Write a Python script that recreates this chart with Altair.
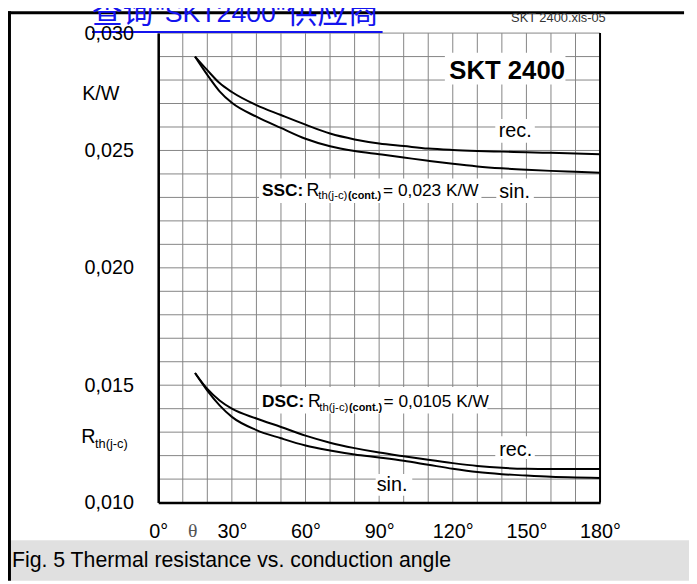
import altair as alt
import pandas as pd

# ---- data ----
angles = [15, 20, 25, 30, 40, 50, 60, 70, 80, 90, 100, 110, 120, 130, 140, 150, 160, 170, 180]
ssc_rec = [0.02900, 0.02842, 0.02787, 0.02749, 0.02693, 0.02651, 0.02610, 0.02572, 0.02547, 0.02530,
           0.02519, 0.02508, 0.02502, 0.02498, 0.02495, 0.02492, 0.02490, 0.02487, 0.02484]
ssc_sin = [0.02900, 0.02822, 0.02752, 0.02703, 0.02644, 0.02596, 0.02550, 0.02518, 0.02498, 0.02484,
           0.02470, 0.02456, 0.02443, 0.02432, 0.02424, 0.02418, 0.02413, 0.02409, 0.02405]
dsc_rec = [0.01552, 0.01484, 0.01435, 0.01400, 0.01358, 0.01322, 0.01285, 0.01255, 0.01232, 0.01213,
           0.01197, 0.01182, 0.01168, 0.01156, 0.01148, 0.01144, 0.01143, 0.01143, 0.01143]
dsc_sin = [0.01552, 0.01477, 0.01414, 0.01365, 0.01309, 0.01274, 0.01243, 0.01222, 0.01205, 0.01192,
           0.01178, 0.01161, 0.01144, 0.01130, 0.01121, 0.01115, 0.01110, 0.01107, 0.01105]
curve_names = ["SSC rec.", "SSC sin.", "DSC rec.", "DSC sin."]
x_grid = list(range(0, 181, 10))
y_grid = [round(0.010 + i * 0.001, 3) for i in range(21)]

rows = []
for name, vals in zip(curve_names, [ssc_rec, ssc_sin, dsc_rec, dsc_sin]):
    for a, v in zip(angles, vals):
        rows.append({"angle": a, "rth": v, "curve": name})
df = pd.DataFrame(rows)

FONT = "Liberation Sans"
CJK = "Noto Sans CJK SC"
W, H = 447, 475
GRID = "#858585"
BLUE = "#1414ee"

xscale = alt.Scale(domain=[0, 180], nice=False, zero=False)
yscale = alt.Scale(domain=[0.010, 0.030], nice=False, zero=False)


def xaxis():
    return alt.Axis(values=x_grid, title=None, ticks=False, tickSize=0, grid=False, zindex=1,
                    labelExpr="datum.value % 30 == 0 ? datum.value + '°' : ''",
                    domainColor="black", domainWidth=2.5,
                    labelFont=FONT, labelFontSize=20, labelColor="black",
                    labelPadding=19.5, labelOverlap=False, labelFlush=False, labelBound=False)


def yaxis():
    return alt.Axis(values=y_grid, title=None, ticks=False, tickSize=0, grid=False, zindex=1,
                    labelExpr="(round(datum.value*1000) % 5 == 0) ? replace(format(datum.value, '.3f'), '.', ',') : ''",
                    domainColor="black", domainWidth=2.5,
                    labelFont=FONT, labelFontSize=20, labelColor="black",
                    labelPadding=25, labelOverlap=False, labelFlush=False, labelBound=False)


vgrid = alt.Chart(pd.DataFrame({"angle": x_grid})).mark_rule(color=GRID, strokeWidth=1).encode(
    x=alt.X("angle:Q", scale=xscale, axis=xaxis()))
hgrid = alt.Chart(pd.DataFrame({"rth": y_grid})).mark_rule(color=GRID, strokeWidth=1).encode(
    y=alt.Y("rth:Q", scale=yscale, axis=yaxis()))

lines = alt.Chart(df).mark_line(color="black", strokeWidth=2, interpolate="monotone").encode(
    x=alt.X("angle:Q", scale=xscale, axis=xaxis()),
    y=alt.Y("rth:Q", scale=yscale, axis=yaxis()),
    detail="curve:N",
)

one = pd.DataFrame({"k": [0]})


def box(x1, x2, y1, y2, color="white"):
    return alt.Chart(one).mark_rect(color=color).encode(
        x=alt.value(x1), x2=alt.value(x2), y=alt.value(y1), y2=alt.value(y2))


def txt(x, y, text, size, weight="normal", font=FONT, color="black", align="left", baseline="alphabetic"):
    return alt.Chart(one).mark_text(text=text, fontSize=size, fontWeight=weight, font=font,
                                    color=color, align=align, baseline=baseline).encode(
        x=alt.value(x), y=alt.value(y))


def hline(x1, x2, y, color, width):
    return alt.Chart(one).mark_rule(color=color, strokeWidth=width).encode(
        x=alt.value(x1), x2=alt.value(x2), y=alt.value(y))


def vline(x, y1, y2, color, width):
    return alt.Chart(one).mark_rule(color=color, strokeWidth=width).encode(
        x=alt.value(x), y=alt.value(y1), y2=alt.value(y2))


layers = [
    vgrid,
    hgrid,
    lines,
    # white label boxes inside the plot
    box(290, 412, 20, 52),
    box(341, 381, 87, 111),
    box(102, 327, 147, 172),
    box(342, 380, 147, 172),
    box(102, 333, 358, 385),
    box(341, 381, 408, 431),
    box(220, 257, 446, 468),
    vline(W, 0, H, "black", 2),
    # in-plot labels
    txt(353, 46.5, "SKT 2400", 26, weight="bold", align="center"),
    txt(344.5, 105, "rec.", 20),
    txt(105, 165, "SSC:", 17.5, weight="bold"),
    txt(150, 165, "R", 18),
    txt(162, 168, "th(j-c)", 11.5),
    txt(192, 168, "(cont.)", 11, weight="bold"),
    txt(227.5, 165, "= 0,023 K/W", 17.5),
    txt(345, 166.5, "sin.", 20),
    txt(105, 378.5, "DSC:", 17.5, weight="bold"),
    txt(151.5, 378.5, "R", 18),
    txt(163, 382, "th(j-c)", 11.5),
    txt(193, 382, "(cont.)", 11, weight="bold"),
    txt(228, 378.5, "= 0,0105 K/W", 17.5),
    txt(345, 428, "rec.", 20),
    txt(221, 463, "sin.", 20),
    # axis decorations
    txt(35, 510, "θ", 20, font="Liberation Serif", color="#555555", align="center"),
    txt(-77, 68, "K/W", 20),
    txt(-78, 415, "R", 20),
    txt(-64, 420, "th(j-c)", 13),
    # page decorations
    box(-152, 537, 513, 554, color="#e0e0e0"),
    txt(-148, 540, "Fig. 5 Thermal resistance vs. conduction angle", 21.5),
    hline(-152, 532, -20.5, "black", 3),
    vline(-150.5, -22, 554, "black", 3),
    txt(357, -11.5, "SKT 2400.xls-05", 13, color="#333333"),
    txt(-67, -10, "查询", 31, font=CJK, color=BLUE),
    txt(-3, -11, "\"SKT2400\"", 27, color=BLUE),
    txt(130, -10, "供应商", 31, font=CJK, color=BLUE),
    hline(-67, 227, -1, BLUE, 2),
]

chart = alt.layer(*layers).properties(
    width=W, height=H,
    padding={"left": 152, "top": 22, "right": 90, "bottom": 79},
    autosize=alt.AutoSizeParams(type="none"),
    background="white",
).configure_view(stroke=None)

chart.save("out.html", embed_options={"renderer": "svg", "actions": False})
